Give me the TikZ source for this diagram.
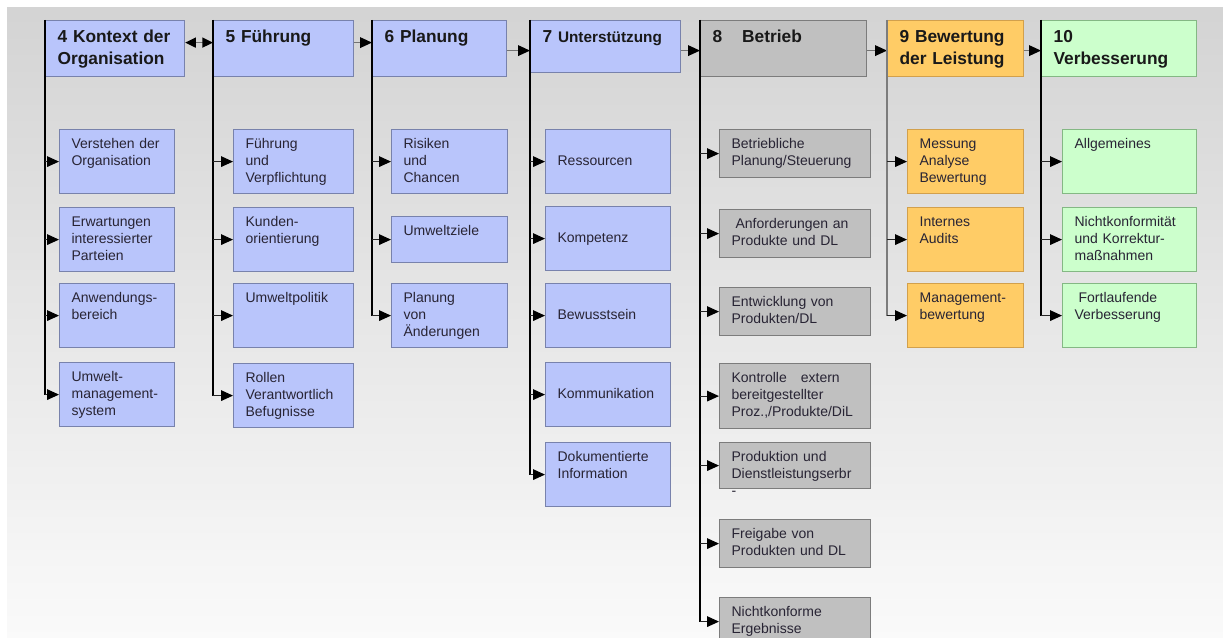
\documentclass[tikz,border=0pt]{standalone}
\usepackage{fontspec}
\setmainfont{Liberation Sans}
\usetikzlibrary{arrows.meta}
\definecolor{blueFill}{RGB}{185,197,251}
\definecolor{blueLine}{RGB}{120,130,172}
\definecolor{grayFill}{RGB}{192,192,192}
\definecolor{grayLine}{RGB}{124,124,124}
\definecolor{orangeFill}{RGB}{255,204,102}
\definecolor{orangeLine}{RGB}{210,160,76}
\definecolor{greenFill}{RGB}{204,255,204}
\definecolor{greenLine}{RGB}{132,184,132}
\definecolor{textDark}{RGB}{40,36,52}
\tikzstyle{headBox} = [rectangle, anchor=north west, align=left, inner xsep=9pt, inner ysep=0pt, text height=16.8pt, text depth=25.2pt, font=\fontsize{13}{16.5}\selectfont\bfseries, text=black!90, line width=0.9pt]
\tikzstyle{subBox} = [rectangle, anchor=north west, align=left, inner xsep=9pt, inner ysep=0pt, text height=14.25pt, text depth=33.75pt, font=\fontsize{10.5}{12.75}\selectfont, text=textDark, line width=0.9pt]
\tikzstyle{midText} = [text height=27pt, text depth=21pt]
\tikzstyle{blueBox} = [draw=blueLine, fill=blueFill]
\tikzstyle{grayBox} = [draw=grayLine, fill=grayFill]
\tikzstyle{orangeBox} = [draw=orangeLine, fill=orangeFill]
\tikzstyle{greenBox} = [draw=greenLine, fill=greenFill]
\tikzstyle{trunk} = [draw=black, line width=1.2pt]
\tikzstyle{subArrow} = [draw=black!85, line width=0.8pt, -{Triangle[length=9pt,width=8pt,color=black]}]
\tikzstyle{headArrow} = [draw=black!55, line width=1.1pt, -{Triangle[length=9pt,width=8pt,color=black]}]
\tikzstyle{headArrowBoth} = [draw=black!55, line width=1.1pt, {Triangle[length=8pt,width=7.5pt,color=black]}-{Triangle[length=8pt,width=7.5pt,color=black]}]

\begin{document}
\begin{tikzpicture}[x=0.75pt, y=-0.75pt]
    \useasboundingbox (0,0) rectangle (1223,638);
    \shade[top color=black!17, bottom color=black!2] (7,8) rectangle (1223,638);

    % chapter heads
    \node[headBox, blueBox, text width=86.25pt] (h4) at (45,20) {4 Kontext der\\Organisation};
    \node[headBox, blueBox, text width=87pt] (h5) at (213,20) {5 Führung};
    \node[headBox, blueBox, text width=82.5pt] (h6) at (372,20) {6 Planung};
    \node[headBox, blueBox, text width=94.5pt, text depth=22.2pt] (h7) at (530,20) {7 {\fontsize{11.5}{16.5}\selectfont Unterstützung}};
    \node[headBox, grayBox, text width=106.5pt] (h8) at (700,20) {8\hspace{15pt}Betrieb};
    \node[headBox, orangeBox, text width=84pt] (h9) at (887,20) {9 Bewertung\\der Leistung};
    \node[headBox, greenBox, text width=98.25pt] (h10) at (1041,20) {10\\Verbesserung};

    \node[subBox, blueBox, text width=68.25pt] (c4a) at (59,129) {Verstehen der\\Organisation};
    \node[subBox, blueBox, text width=68.25pt] (c4b) at (59,207) {Erwartungen\\interessierter\\Parteien};
    \node[subBox, blueBox, text width=68.25pt] (c4c) at (59,283) {Anwendungs-\\bereich};
    \node[subBox, blueBox, text width=68.25pt] (c4d) at (59,362) {Umwelt-\\management-\\system};

    \node[subBox, blueBox, text width=72pt] (c5a) at (233,129) {Führung\\und\\Verpflichtung};
    \node[subBox, blueBox, text width=72pt] (c5b) at (233,207) {Kunden-\\orientierung};
    \node[subBox, blueBox, text width=72pt] (c5c) at (233,283) {Umweltpolitik};
    \node[subBox, blueBox, text width=72pt] (c5d) at (233,363) {Rollen\\Verantwortlich\\Befugnisse};

    \node[subBox, blueBox, text width=69pt] (c6a) at (391,129) {Risiken\\und\\Chancen};
    \node[subBox, blueBox, text width=69pt, text depth=20.25pt] (c6b) at (391,216) {Umweltziele};
    \node[subBox, blueBox, text width=69pt] (c6c) at (391,283) {Planung\\von\\Änderungen};

    \node[subBox, blueBox, midText, text width=75.75pt] (c7a) at (545,129) {Ressourcen};
    \node[subBox, blueBox, midText, text width=75.75pt] (c7b) at (545,206) {Kompetenz};
    \node[subBox, blueBox, midText, text width=75.75pt] (c7c) at (545,283) {Bewusstsein};
    \node[subBox, blueBox, midText, text width=75.75pt] (c7d) at (545,362) {Kommunikation};
    \node[subBox, blueBox, text width=75.75pt] (c7e) at (545,442) {Dokumentierte\\Information};

    \node[subBox, grayBox, text width=95.25pt, text depth=21.75pt] (c8a) at (719,129) {Betriebliche\\Planung/Steuerung};
    \node[subBox, grayBox, text width=95.25pt, text depth=21.75pt] (c8b) at (719,209) {\hspace{3pt}Anforderungen an\\Produkte und DL};
    \node[subBox, grayBox, text width=95.25pt, text depth=21.75pt] (c8c) at (719,287) {Entwicklung von\\Produkten/DL};
    \node[subBox, grayBox, text width=95.25pt, text depth=34.5pt] (c8d) at (719,363) {Kontrolle\ \ \ extern\\bereitgestellter\\Proz.,/Produkte/DiL};
    \node[subBox, grayBox, text width=95.25pt, text depth=20.25pt] (c8e) at (719,442) {Produktion und\\Dienstleistungserbr\\-};
    \node[subBox, grayBox, text width=95.25pt, text depth=21.75pt] (c8f) at (719,519) {Freigabe von\\Produkten und DL};
    \node[subBox, grayBox, text width=95.25pt, text depth=21.75pt] (c8g) at (719,597) {Nichtkonforme\\Ergebnisse};

    \node[subBox, orangeBox, text width=69pt] (c9a) at (907,129) {Messung\\Analyse\\Bewertung};
    \node[subBox, orangeBox, text width=69pt] (c9b) at (907,207) {Internes\\Audits};
    \node[subBox, orangeBox, text width=69pt] (c9c) at (907,283) {Management-\\bewertung};

    \node[subBox, greenBox, text width=82.5pt] (c10a) at (1062,129) {Allgemeines};
    \node[subBox, greenBox, text width=82.5pt] (c10b) at (1062,207) {Nichtkonformität\\und Korrektur-\\maßnahmen};
    \node[subBox, greenBox, text width=82.5pt] (c10c) at (1062,283) {\hspace{3pt}Fortlaufende\\Verbesserung};

    % links between the heads
    \draw[headArrowBoth] ([yshift=4.5pt]h4.east) -- ([yshift=4.5pt]h5.west);
    \draw[headArrow] ([yshift=4.5pt]h5.east) -- ([yshift=4.5pt]h5.east -| h6.west);
    \draw[headArrow] ([yshift=-1.5pt]h6.east) -- ([yshift=-1.5pt]h6.east -| h7.west);
    \draw[headArrow] ([yshift=-1.5pt]h8.west -| h7.east) -- ([yshift=-1.5pt]h8.west);
    \draw[headArrow] ([yshift=-1.5pt]h8.east) -- ([yshift=-1.5pt]h9.west);
    \draw[headArrow] ([yshift=-1.5pt]h9.east) -- ([yshift=-1.5pt]h9.east -| h10.west);

    % trunks and branches
    \foreach \h/\last in {h4/c4d, h5/c5d, h6/c6c, h7/c7e, h8/c8g, h10/c10c}
        \draw[trunk] (\h.north west) -- (\h.north west |- \last.west);
    \draw[trunk, draw=grayLine] (h9.north west) -- (h9.north west |- c9c.west);
    \foreach \h/\c in {h4/c4a, h4/c4b, h4/c4c, h4/c4d, h5/c5a, h5/c5b, h5/c5c, h5/c5d,
                       h6/c6a, h6/c6b, h6/c6c, h7/c7a, h7/c7b, h7/c7c, h7/c7d, h7/c7e,
                       h8/c8a, h8/c8b, h8/c8c, h8/c8d, h8/c8e, h8/c8f, h8/c8g,
                       h9/c9a, h9/c9b, h9/c9c, h10/c10a, h10/c10b, h10/c10c}
        \draw[subArrow] (\h.north west |- \c.west) -- (\c.west);
\end{tikzpicture}
\end{document}
